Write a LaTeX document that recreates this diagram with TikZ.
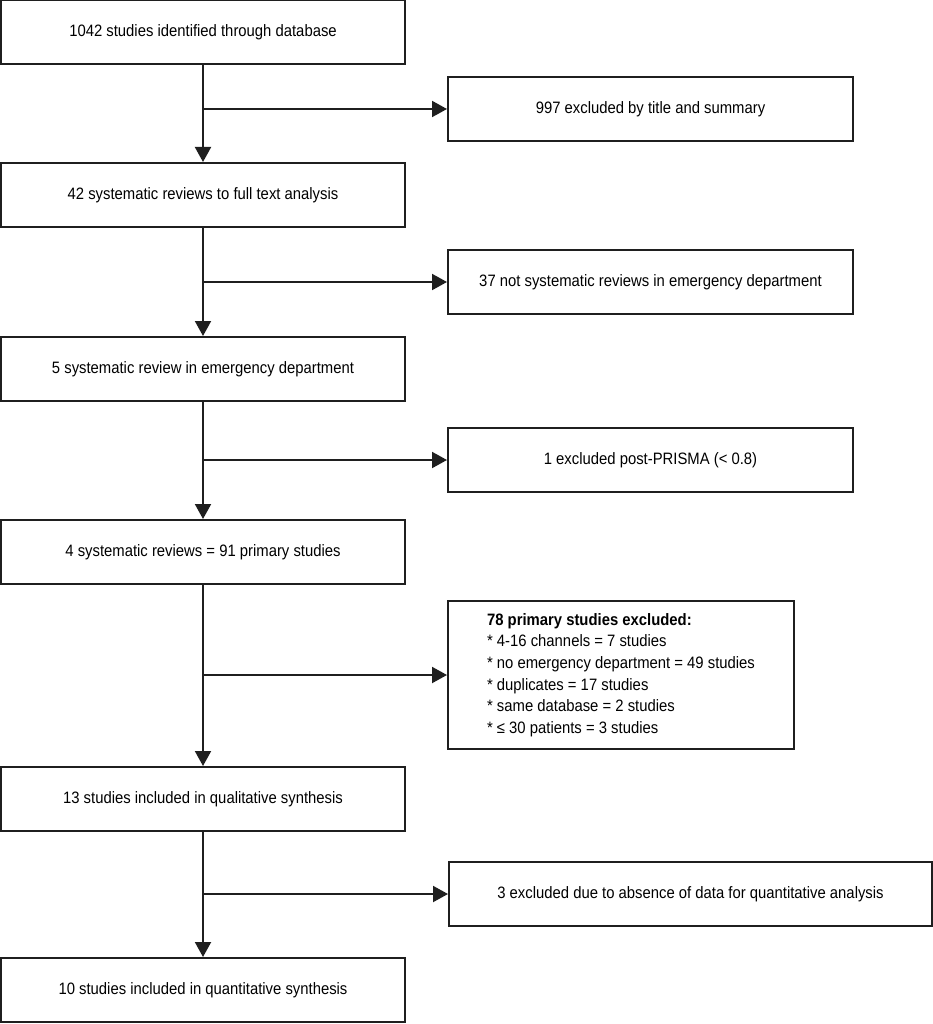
\documentclass[tikz,border=0pt]{standalone}
\usepackage{fontspec}
\setmainfont{Liberation Sans}[FakeStretch=0.9]
\usetikzlibrary{arrows.meta}
\begin{document}
\begin{tikzpicture}[x=1pt,y=1pt,
  box/.style={draw=black!88, line width=2pt, minimum width=404pt, minimum height=64pt,
    inner sep=0pt, font=\fontsize{16.5}{20}\selectfont},
  rbox/.style={box, minimum width=405pt},
  listbox/.style={box, minimum width=346pt, minimum height=148pt, align=left,
    font=\fontsize{16.5}{21.7}\selectfont},
  arr/.style={draw=black!88, line width=2pt, -{Triangle[length=15pt,width=16pt]}}]
\useasboundingbox (0,0) rectangle (933,-1024);
\node[box] (n1) at (203,-32) {1042 studies identified through database};
\node[box] (n2) at (203,-195) {42 systematic reviews to full text analysis};
\node[box] (n3) at (203,-369) {5 systematic review in emergency department};
\node[box] (n4) at (203,-552) {4 systematic reviews = 91 primary studies};
\node[box] (n5) at (203,-799) {13 studies included in qualitative synthesis};
\node[box] (n6) at (203,-990) {10 studies included in quantitative synthesis};
\node[rbox] (r1) at (650.5,-109) {997 excluded by title and summary};
\node[rbox] (r2) at (650.5,-282) {37 not systematic reviews in emergency department};
\node[rbox] (r3) at (650.5,-460) {1 excluded post-PRISMA (< 0.8)};
\node[listbox] (r4) at (621,-675) {\textbf{78 primary studies excluded:}\\
* 4-16 channels = 7 studies\\
* no emergency department = 49 studies\\
* duplicates = 17 studies\\
* same database = 2 studies\\
* ≤ 30 patients = 3 studies};
\node[rbox, minimum width=483pt] (r5) at (690.5,-894) {3 excluded due to absence of data for quantitative analysis};
\draw[arr] (n1.south) -- (n2.north);
\draw[arr] (n2.south) -- (n3.north);
\draw[arr] (n3.south) -- (n4.north);
\draw[arr] (n4.south) -- (n5.north);
\draw[arr] (n5.south) -- (n6.north);
\draw[arr] (n1.south |- r1.west) -- (r1.west);
\draw[arr] (n2.south |- r2.west) -- (r2.west);
\draw[arr] (n3.south |- r3.west) -- (r3.west);
\draw[arr] (n4.south |- r4.west) -- (r4.west);
\draw[arr] (n5.south |- r5.west) -- (r5.west);
\end{tikzpicture}
\end{document}
